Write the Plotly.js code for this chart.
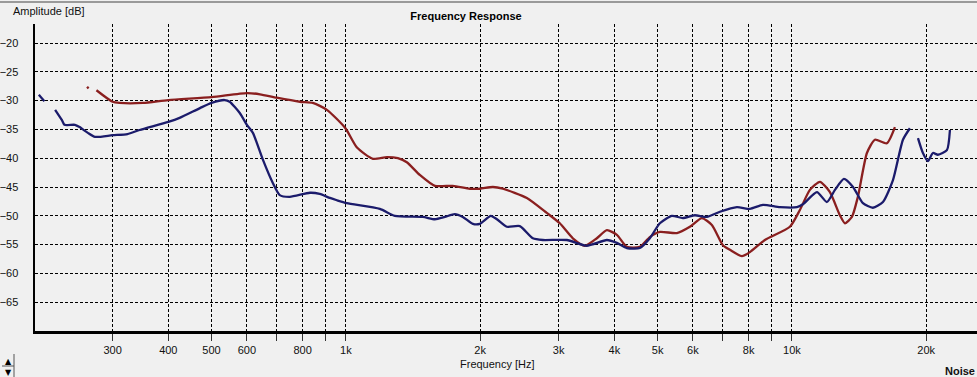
<!DOCTYPE html>
<html><head><meta charset="utf-8">
<script src="https://cdn.plot.ly/plotly-3.0.1.min.js"></script>
<style>html,body{margin:0;padding:0;background:#f0f0f0;}#chart{width:977px;height:377px;}</style>
</head><body><div id="chart"></div>
<script>
// Blue series (Hz, dB); null marks a gap in the trace
const blueFreq = [205,211,null,223,231,234,247,253,264,274,300,324,345,400,424,471,500,535,549,579,600,619,652,686,711,749,831,874,921,955,1005,1192,1288,1488,1584,1667,1755,1829,1927,1997,2114,2181,2296,2455,2626,2765,3130,3470,3848,4052,4266,4562,4803,5058,5381,5695,6060,6447,6896,7529,8052,8610,9400,10260,10585,11380,11980,12490,13080,13710,14430,15190,16000,16850,17740,18390,null,19170,19670,20180,20710,21250,22260,22610];
const blueDb   = [-29.0,-30.1,null,-31.6,-33.4,-34.2,-34.2,-34.6,-35.6,-36.3,-36.0,-35.8,-35.1,-33.7,-33.0,-31.3,-30.4,-29.9,-30.2,-32.2,-34.2,-35.6,-40.3,-44.3,-46.4,-46.7,-46.0,-46.2,-46.9,-47.3,-47.8,-48.8,-50.0,-50.2,-50.6,-50.2,-49.7,-50.2,-51.4,-51.4,-50.0,-50.6,-51.9,-51.8,-53.9,-54.2,-54.2,-55.2,-54.2,-54.7,-55.6,-55.6,-53.9,-51.3,-50.0,-50.4,-49.9,-50.2,-49.3,-48.5,-48.8,-48.1,-48.5,-48.5,-48.0,-45.9,-47.6,-45.5,-43.6,-45.0,-47.8,-48.6,-47.6,-43.8,-36.8,-34.8,null,-36.5,-39.1,-40.5,-39.1,-39.4,-38.6,-35.1];
// Red series (Hz, dB)
const redFreq = [263,265,null,276,300,311,351,400,500,600,642,700,789,843,907,998,1058,1150,1236,1308,1370,1465,1584,1738,1897,1997,2136,2249,2546,2822,3018,3228,3435,3654,3848,4052,4266,4562,4803,5058,5523,5906,6283,6616,7004,7261,7726,8052,8698,9897,10420,10975,11560,12170,12810,13150,13630,14060,14730,15350,16330,17020];
const redDb   = [-27.6,-27.9,null,-28.2,-30.2,-30.4,-30.4,-29.9,-29.4,-28.7,-28.9,-29.5,-30.2,-30.4,-31.6,-34.8,-38.1,-40.1,-39.8,-40.0,-40.7,-42.9,-44.8,-44.8,-45.3,-45.3,-45.0,-45.3,-46.9,-49.5,-51.3,-53.9,-55.2,-53.9,-52.5,-53.3,-55.4,-55.4,-53.7,-52.8,-53.0,-51.9,-50.4,-51.6,-55.1,-55.9,-57.0,-56.3,-54.2,-51.9,-49.0,-45.5,-44.1,-45.9,-49.9,-51.3,-50.2,-46.7,-39.1,-36.8,-37.4,-34.6];
// Axis ticks
const xTickVals = [300,400,500,600,700,800,900,1000,2000,3000,4000,5000,6000,7000,8000,9000,10000,20000];
const xTickText = ['300','400','500','600','','800','','1k','2k','3k','4k','5k','6k','','8k','','10k','20k'];
const yTickVals = [-20,-25,-30,-35,-40,-45,-50,-55,-60,-65];

const traces = [
  {x: redFreq, y: redDb, mode: 'lines', connectgaps: false, line: {color: '#8a1f1f', width: 2.3, shape: 'spline', smoothing: 0.6}, hoverinfo: 'skip'},
  {x: blueFreq, y: blueDb, mode: 'lines', connectgaps: false, line: {color: '#1b1b6b', width: 2.3, shape: 'spline', smoothing: 0.6}, hoverinfo: 'skip'}
];
const fnt = {family: 'Liberation Sans, Arial, sans-serif', size: 11, color: '#111'};
const layout = {
  width: 977, height: 377,
  margin: {l: 35, r: 0, t: 24, b: 46},
  paper_bgcolor: '#f0f0f0', plot_bgcolor: '#f0f0f0',
  showlegend: false,
  font: fnt,
  xaxis: {
    type: 'log', range: [Math.log10(201), Math.log10(26000)],
    tickvals: xTickVals, ticktext: xTickText,
    showgrid: true, gridcolor: '#000', gridwidth: 1, griddash: '3px,2px',
    showline: true, linecolor: '#000', linewidth: 2.5,
    ticks: 'outside', ticklen: 7, tickcolor: '#333', tickwidth: 1,
    tickfont: fnt, zeroline: false, fixedrange: true
  },
  yaxis: {
    range: [-70, -16.7],
    tickvals: yTickVals,
    showgrid: true, gridcolor: '#000', gridwidth: 1, griddash: '3px,2px',
    showline: true, linecolor: '#000', linewidth: 2.5,
    ticks: 'outside', ticklen: 12, tickcolor: 'rgba(0,0,0,0)',
    tickfont: fnt, zeroline: false, fixedrange: true
  },
  title: {text: '<b>Frequency Response</b>', font: {family: 'Liberation Sans, Arial, sans-serif', size: 11, color: '#000'},
          x: 466/977, xanchor: 'center', xref: 'container', y: 1 - 16/377, yanchor: 'middle', yref: 'container'},
  annotations: [
    {text: 'Amplitude [dB]', xref: 'paper', yref: 'paper', x: (11-35)/942, y: 1 + (24-11)/307, xanchor: 'left', yanchor: 'middle', showarrow: false, font: fnt},
    {text: 'Frequency [Hz]', xref: 'paper', yref: 'paper', x: (497-35)/942, y: -(364-331)/307, xanchor: 'center', yanchor: 'middle', showarrow: false, font: fnt},
    {text: '<b>Noise</b>', xref: 'paper', yref: 'paper', x: 1, y: -(371-331)/307, xanchor: 'right', yanchor: 'middle', showarrow: false, font: fnt},
    {text: '▲', xref: 'paper', yref: 'paper', x: (8-35)/942, y: -(361-331)/307, xanchor: 'center', yanchor: 'middle', showarrow: false, font: {family: 'DejaVu Sans', size: 8, color: '#000'}},
    {text: '▼', xref: 'paper', yref: 'paper', x: (8-35)/942, y: -(372-331)/307, xanchor: 'center', yanchor: 'middle', showarrow: false, font: {family: 'DejaVu Sans', size: 8, color: '#000'}}
  ],
  shapes: [
    {type: 'line', xref: 'paper', yref: 'paper', x0: -35/942, x1: 1, y0: 1 + (24-2)/307, y1: 1 + (24-2)/307, line: {color: '#9a9a9a', width: 2}},
    {type: 'line', xref: 'paper', yref: 'paper', x0: (14-35)/942, x1: (14-35)/942, y0: -(354-331)/307, y1: -(377-331)/307, line: {color: '#555', width: 1}},
    {type: 'line', xref: 'paper', yref: 'paper', x0: (2-35)/942, x1: (14-35)/942, y0: -(366-331)/307, y1: -(366-331)/307, line: {color: '#555', width: 1}}
  ]
};
Plotly.newPlot('chart', traces, layout, {staticPlot: true, displayModeBar: false});
</script></body></html>
